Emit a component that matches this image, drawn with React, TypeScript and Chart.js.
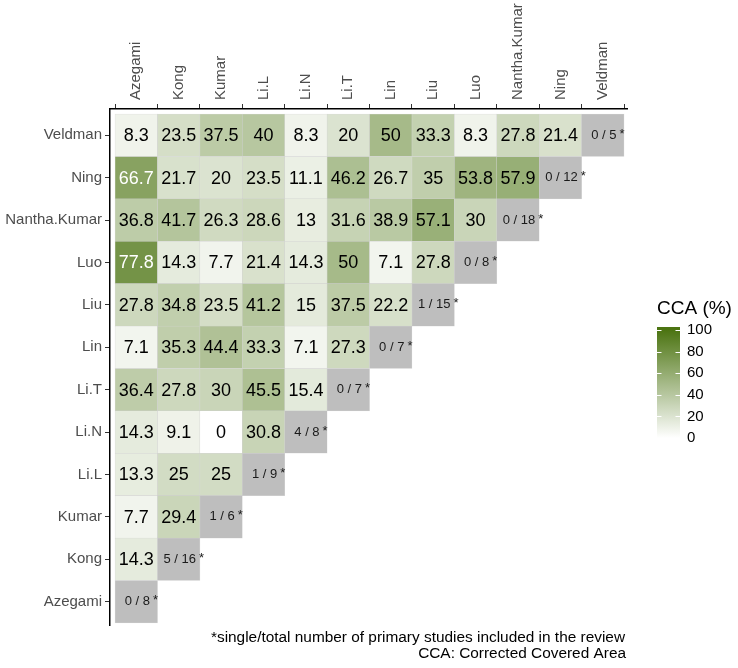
import { useEffect, useRef } from "react";
import { Chart, registerables } from "chart.js";

Chart.register(...registerables);

// Studies (bottom-to-top on the y axis, left-to-right on the x axis)
const studies = ["Azegami", "Kong", "Kumar", "Li.L", "Li.N", "Li.T", "Lin", "Liu", "Luo", "Nantha.Kumar", "Ning", "Veldman"];

// CCA (%) per row study, for columns Azegami ... up to the column before the diagonal
const ccaAzegami: number[] = [];
const ccaKong = [14.3];
const ccaKumar = [7.7, 29.4];
const ccaLiL = [13.3, 25, 25];
const ccaLiN = [14.3, 9.1, 0, 30.8];
const ccaLiT = [36.4, 27.8, 30, 45.5, 15.4];
const ccaLin = [7.1, 35.3, 44.4, 33.3, 7.1, 27.3];
const ccaLiu = [27.8, 34.8, 23.5, 41.2, 15, 37.5, 22.2];
const ccaLuo = [77.8, 14.3, 7.7, 21.4, 14.3, 50, 7.1, 27.8];
const ccaNantha = [36.8, 41.7, 26.3, 28.6, 13, 31.6, 38.9, 57.1, 30];
const ccaNing = [66.7, 21.7, 20, 23.5, 11.1, 46.2, 26.7, 35, 53.8, 57.9];
const ccaVeldman = [8.3, 23.5, 37.5, 40, 8.3, 20, 50, 33.3, 8.3, 27.8, 21.4];

const ccaRows = [ccaAzegami, ccaKong, ccaKumar, ccaLiL, ccaLiN, ccaLiT, ccaLin, ccaLiu, ccaLuo, ccaNantha, ccaNing, ccaVeldman];

// Diagonal: single / total number of primary studies
const singleStudies = [0, 5, 1, 1, 4, 0, 0, 1, 0, 0, 0, 0];
const totalStudies = [8, 16, 6, 9, 8, 7, 7, 15, 8, 18, 12, 5];

const legendTicks = [0, 20, 40, 60, 80, 100];
const legendTitle = "CCA (%)";
const captionLines = [
  "*single/total number of primary studies included in the review",
  "CCA: Corrected Covered Area",
];

const FONT = '"Liberation Sans", Arial, Helvetica, sans-serif';
const LOW = [255, 255, 255];
const HIGH = [76, 116, 18];
const DIAG = "#bebebe";

function fillFor(v: number): string {
  const t = Math.max(0, Math.min(1, v / 100));
  const c = LOW.map((l, i) => Math.round(l + (HIGH[i] - l) * t));
  return `rgb(${c[0]},${c[1]},${c[2]})`;
}

const cellLabels = {
  id: "cellLabels",
  afterDatasetsDraw(chart: any) {
    const ctx = chart.ctx;
    ctx.save();
    chart.data.datasets.forEach((ds: any, di: number) => {
      const meta = chart.getDatasetMeta(di);
      meta.data.forEach((el: any, j: number) => {
        const raw = ds.data[j];
        const cx = el.x;
        const cy = (el.y + el.base) / 2;
        if (raw.diag) {
          ctx.font = `13px ${FONT}`;
          ctx.fillStyle = "#1a1a1a";
          ctx.textBaseline = "middle";
          ctx.textAlign = "center";
          const txt = `${raw.single} / ${raw.total}`;
          const w = ctx.measureText(txt).width;
          const tx = cx + 1;
          ctx.fillText(txt, tx, cy);
          ctx.textAlign = "left";
          ctx.fillText("*", tx + w / 2 + 3, cy - 1);
        } else {
          ctx.font = `18px ${FONT}`;
          ctx.fillStyle = raw.v >= 60 ? "#ffffff" : "#000000";
          ctx.textBaseline = "middle";
          ctx.textAlign = "center";
          ctx.fillText(String(raw.v), cx, cy + 1);
        }
      });
    });
    ctx.restore();
  },
};

const legendAndCaption = {
  id: "legendAndCaption",
  afterDraw(chart: any) {
    const ctx = chart.ctx;
    const area = chart.chartArea;
    ctx.save();
    // colour bar
    const barL = 657, barR = 680, barT = 327, barB = 441;
    const yOf = (v: number) => 438 - v * 1.08;
    const grad = ctx.createLinearGradient(0, yOf(100), 0, yOf(0));
    for (let k = 0; k <= 10; k++) grad.addColorStop(k / 10, fillFor(100 - k * 10));
    ctx.fillStyle = grad;
    ctx.fillRect(barL, barT, barR - barL, barB - barT);
    ctx.strokeStyle = "#ffffff";
    ctx.lineWidth = 1;
    ctx.font = `15px ${FONT}`;
    ctx.fillStyle = "#000000";
    ctx.textBaseline = "middle";
    ctx.textAlign = "left";
    legendTicks.forEach((v) => {
      const y = Math.round(yOf(v)) + 0.5;
      ctx.beginPath();
      ctx.moveTo(barL, y);
      ctx.lineTo(barL + 4.5, y);
      ctx.moveTo(barR - 4.5, y);
      ctx.lineTo(barR, y);
      ctx.stroke();
      ctx.fillText(String(v), 687, yOf(v));
    });
    ctx.font = `19px ${FONT}`;
    ctx.fillText(legendTitle, 657, 309);
    // caption
    ctx.font = `15.4px ${FONT}`;
    ctx.textAlign = "right";
    ctx.fillText(captionLines[0], area.right - 2, 638);
    ctx.fillText(captionLines[1], area.right - 1, 654);
    ctx.restore();
  },
};

export default function App() {
  const ref = useRef<HTMLCanvasElement | null>(null);
  useEffect(() => {
    if (!ref.current) return;
    const datasets = studies.map((name, r) => {
      const data: any[] = [];
      const colors: string[] = [];
      ccaRows[r].forEach((v, c) => {
        data.push({ x: c, y: [r - 0.5, r + 0.5], v, diag: false });
        colors.push(fillFor(v));
      });
      data.push({ x: r, y: [r - 0.5, r + 0.5], diag: true, single: singleStudies[r], total: totalStudies[r] });
      colors.push(DIAG);
      return {
        label: name,
        data,
        backgroundColor: colors,
        borderColor: "rgba(200,200,200,0.7)",
        borderWidth: 0.5,
        borderSkipped: false,
        grouped: false,
        categoryPercentage: 1,
        barPercentage: 1,
      };
    });
    const tickFont = { family: FONT, size: 15 };
    const chart = new Chart(ref.current, {
      type: "bar",
      data: { datasets } as any,
      options: {
        animation: false,
        responsive: false,
        parsing: { xAxisKey: "x", yAxisKey: "y" },
        layout: { padding: { top: 0, left: 0, right: 111, bottom: 43 } },
        plugins: { legend: { display: false }, tooltip: { enabled: false } },
        scales: {
          x: {
            type: "linear",
            position: "top",
            min: -0.62,
            max: 11.57,
            offset: false,
            afterBuildTicks: (s: any) => {
              s.ticks = studies.map((_, i) => ({ value: i }));
            },
            afterFit: (s: any) => {
              s.height = 109;
            },
            ticks: {
              callback: (v: any) => studies[v as number] ?? "",
              minRotation: 90,
              maxRotation: 90,
              autoSkip: false,
              padding: 4,
              labelOffset: 18,
              color: "#4d4d4d",
              font: tickFont,
            },
            grid: { display: true, drawOnChartArea: false, drawTicks: true, tickLength: 5, color: "#333333", lineWidth: 1 },
            border: { display: true, color: "#000000", width: 1.5 },
          },
          y: {
            type: "linear",
            min: -0.55,
            max: 11.62,
            afterBuildTicks: (s: any) => {
              s.ticks = studies.map((_, i) => ({ value: i }));
            },
            afterFit: (s: any) => {
              s.width = 110;
            },
            ticks: {
              callback: (v: any) => studies[v as number] ?? "",
              autoSkip: false,
              padding: 3,
              color: "#4d4d4d",
              font: tickFont,
            },
            grid: { display: true, drawOnChartArea: false, drawTicks: true, tickLength: 5, color: "#333333", lineWidth: 1 },
            border: { display: true, color: "#000000", width: 1.5 },
          },
        },
      } as any,
      plugins: [cellLabels, legendAndCaption],
    });
    return () => chart.destroy();
  }, []);
  return (
    <div style={{ position: "fixed", left: 0, top: 0, width: 738, height: 668, background: "#ffffff" }}>
      <canvas ref={ref} width={738} height={668} />
    </div>
  );
}
